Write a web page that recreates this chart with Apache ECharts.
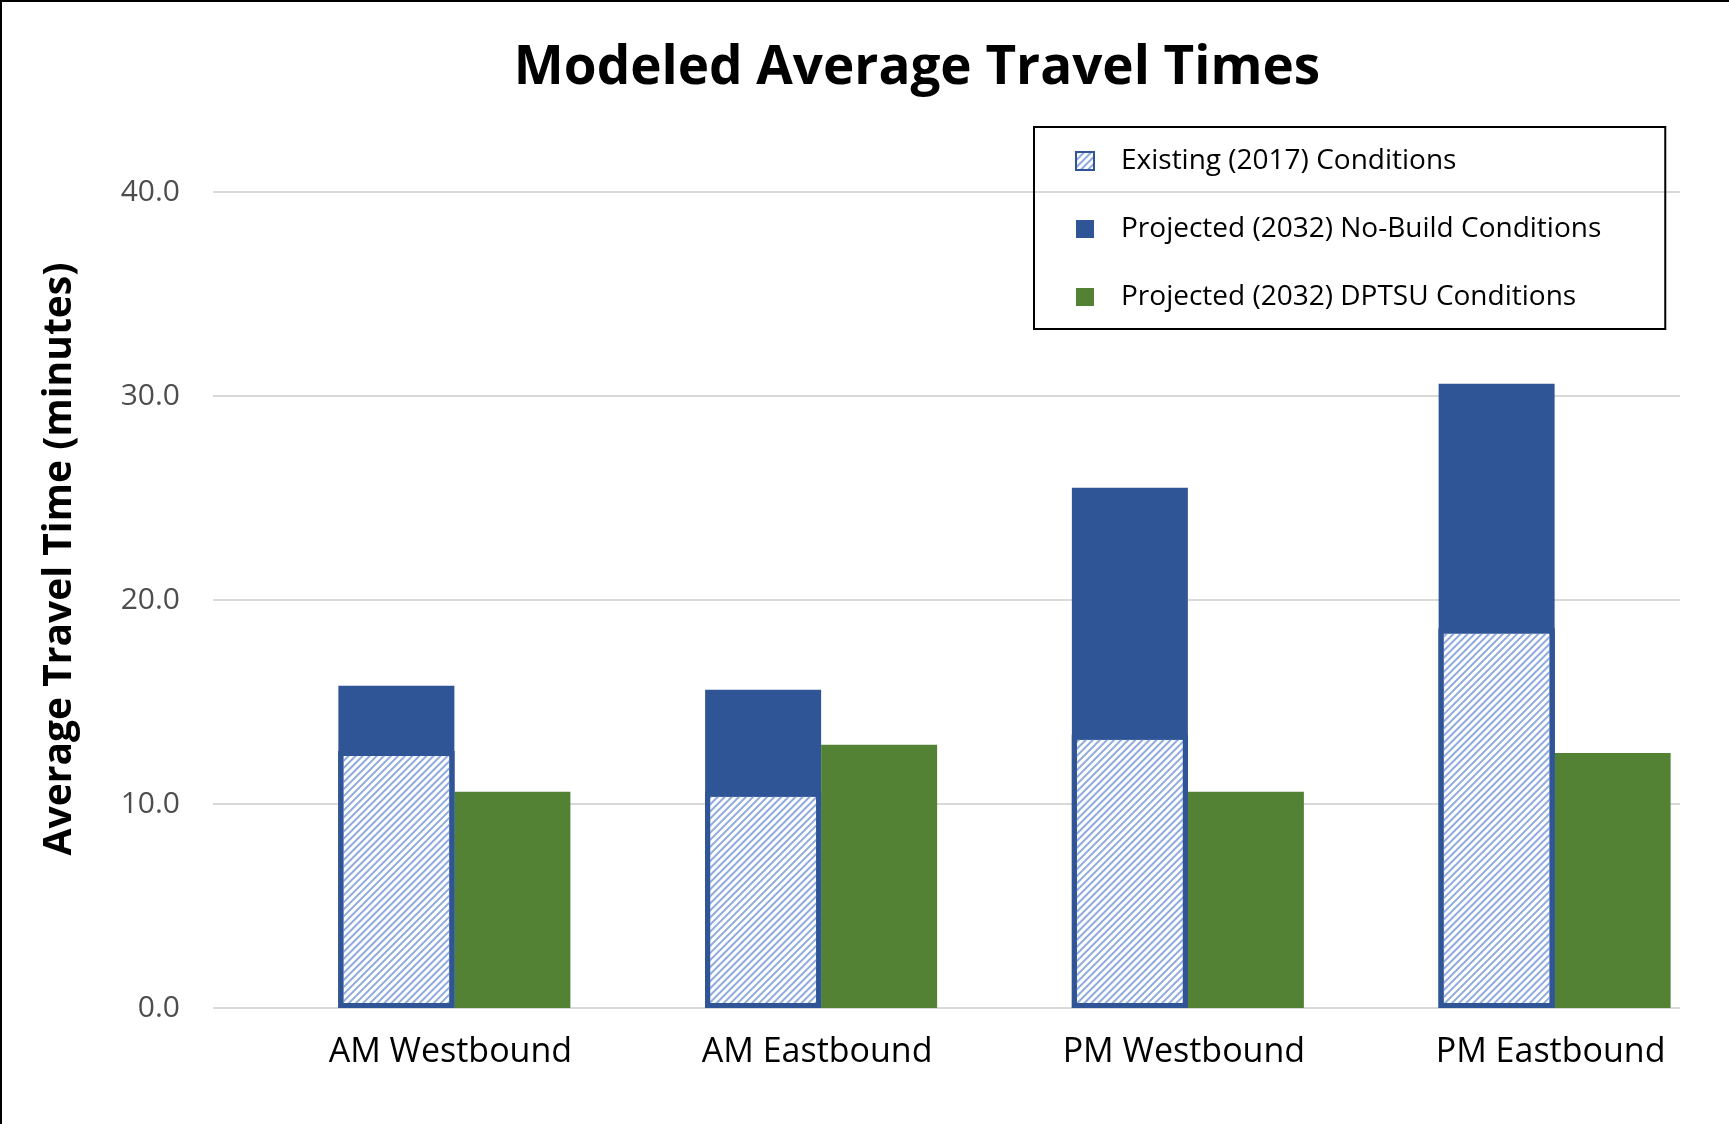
<!DOCTYPE html>
<html>
<head>
<meta charset="utf-8">
<script src="https://cdn.jsdelivr.net/npm/echarts@6/dist/echarts.min.js"></script>
<style>
html,body{margin:0;padding:0;background:#fff;}
#chart{width:1729px;height:1124px;}
</style>
</head>
<body>
<div id="chart"></div>
<script>
const categories = ['AM Westbound', 'AM Eastbound', 'PM Westbound', 'PM Eastbound'];
const existing2017 = [12.6, 10.6, 13.4, 18.6];
const noBuild2032 = [15.8, 15.6, 25.5, 30.6];
const dptsu2032 = [10.6, 12.9, 10.6, 12.5];
const yTicks = [0, 10, 20, 30, 40];
const seriesNames = ['Existing (2017) Conditions', 'Projected (2032) No-Build Conditions', 'Projected (2032) DPTSU Conditions'];

const chart = echarts.init(document.getElementById('chart'), null, {renderer: 'canvas'});
const FONT = 'Open Sans';
const BW = 116;

chart.setOption({
  backgroundColor: '#ffffff',
  animation: false,
  title: {
    text: 'Modeled Average Travel Times',
    left: 912,
    textAlign: 'center',
    top: 37,
    textStyle: {fontFamily: FONT, fontWeight: 'bold', fontSize: 53, color: '#000'}
  },
  legend: {
    data: seriesNames,
    orient: 'vertical',
    left: 1034,
    top: 127,
    padding: [19, 64, 17, 41],
    borderColor: '#000',
    borderWidth: 2,
    itemWidth: 18,
    itemHeight: 18,
    itemGap: 38,
    icon: 'rect',
    textStyle: {fontFamily: FONT, fontSize: 28, color: '#000', lineHeight: 30, padding: [0, 0, 0, 22]}
  },
  grid: {left: 213, right: 49, top: 192, bottom: 116, containLabel: false},
  xAxis: [
    {
      type: 'category',
      data: categories,
      axisLine: {show: false},
      axisTick: {show: false},
      axisLabel: {fontFamily: FONT, fontSize: 34, color: '#000', margin: 27, padding: [0, 0, 0, 108]},
      splitLine: {show: false}
    },
    {
      type: 'category',
      data: categories,
      show: false
    }
  ],
  yAxis: {
    type: 'value',
    min: yTicks[0],
    max: yTicks[yTicks.length - 1],
    interval: 10,
    name: 'Average Travel Time (minutes)',
    nameLocation: 'middle',
    nameGap: 134,
    nameTextStyle: {fontFamily: FONT, fontWeight: 'bold', fontSize: 39, color: '#000', padding: [0, 0, 0, 82]},
    axisLine: {show: false},
    axisTick: {show: false},
    axisLabel: {fontFamily: FONT, fontSize: 30, color: '#4d4d4d', margin: 33, formatter: v => v.toFixed(1)},
    splitLine: {lineStyle: {color: '#D9D9D9', width: 2}}
  },
  series: [
    {
      name: 'pad', type: 'bar', xAxisIndex: 0, data: [], barWidth: BW, barGap: '0%'
    },
    {
      name: seriesNames[1], type: 'bar', xAxisIndex: 0, data: noBuild2032, barWidth: BW, barGap: '0%',
      itemStyle: {color: '#2F5597'}
    },
    {
      name: seriesNames[2], type: 'bar', xAxisIndex: 0, data: dptsu2032, barWidth: BW, barGap: '0%',
      itemStyle: {color: '#548235'}
    },
    {
      name: seriesNames[0], type: 'bar', xAxisIndex: 1, data: existing2017, barWidth: BW, z: 3,
      itemStyle: {
        color: '#ffffff', borderColor: '#2F5597', borderWidth: 5,
        decal: {symbol: 'rect', symbolSize: 1, color: '#8FAADC', dashArrayX: [1, 0], dashArrayY: [2, 3], rotation: -Math.PI / 4}
      }
    }
  ],
  graphic: [
    {type: 'line', shape: {x1: 0, y1: 1, x2: 1729, y2: 1}, style: {stroke: '#000', lineWidth: 2}},
    {type: 'line', shape: {x1: 1, y1: 0, x2: 1, y2: 1124}, style: {stroke: '#000', lineWidth: 2}}
  ]
});
</script>
</body>
</html>
